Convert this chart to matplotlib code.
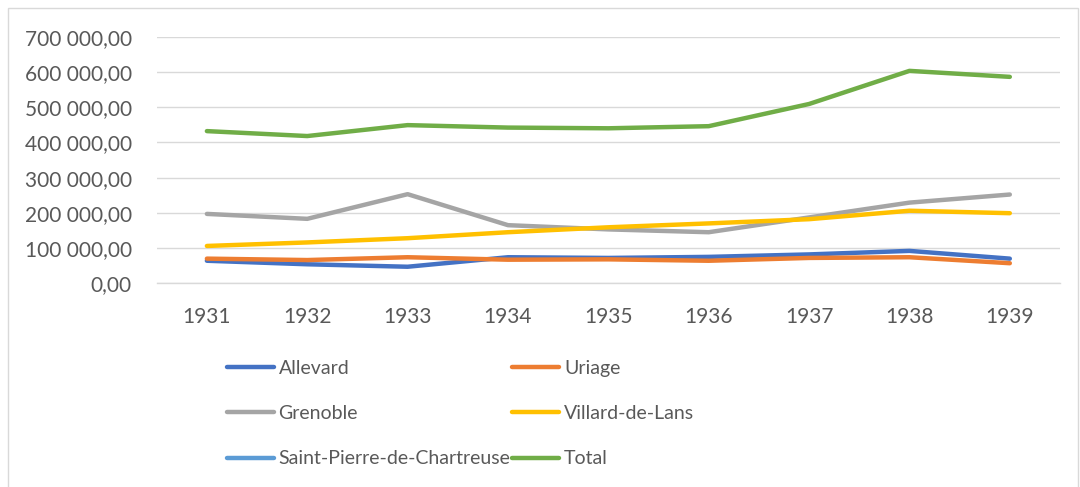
import matplotlib
matplotlib.use('Agg')
from matplotlib import pyplot as plt
from matplotlib.patches import Rectangle
from matplotlib.ticker import FuncFormatter

years = ['1931', '1932', '1933', '1934', '1935', '1936', '1937', '1938', '1939']

allevard = [64000, 54000, 47000, 74000, 72000, 75000, 82000, 92000, 70000]
uriage = [70000, 66000, 74000, 67000, 68000, 64000, 72000, 74000, 57000]
grenoble = [197000, 183000, 253000, 165000, 153000, 145000, 187000, 229000, 252000]
villard = [106000, 116000, 128000, 145000, 159000, 170000, 182000, 206000, 199000]
# no values shown for this one in the chart, legend only
saint_pierre = [None] * 9
total = [432000, 418000, 449000, 442000, 440000, 446000, 509000, 603000, 586000]

series = [
    ('Allevard', allevard, '#4472c4'),
    ('Uriage', uriage, '#ed7d31'),
    ('Grenoble', grenoble, '#a5a5a5'),
    ('Villard-de-Lans', villard, '#ffc000'),
    ('Saint-Pierre-de-Chartreuse', saint_pierre, '#5b9bd5'),
    ('Total', total, '#70ad47'),
]

TXT = '#595959'
GRID = '#d9d9d9'

plt.rcParams['font.family'] = ['Lato', 'DejaVu Sans']

fig = plt.figure(figsize=(10.8, 4.87), dpi=100)
fig.patches.append(Rectangle((8 / 1080, -0.1), 1070 / 1080, 1 - 8 / 487 + 0.1,
                             transform=fig.transFigure, fill=False,
                             edgecolor=GRID, linewidth=1.0))

ax = fig.add_axes([156.7 / 1080, 1 - 283.3 / 487, (1060 - 156.7) / 1080, (283.3 - 36.7) / 487])

x = list(range(len(years)))
lines = []
for name, vals, col in series:
    v = [float('nan') if a is None else a for a in vals]
    ln, = ax.plot(x, v, color=col, linewidth=3.2, solid_capstyle='round', label=name)
    lines.append(ln)

ax.set_xlim(-0.5, len(years) - 0.5)
ax.set_ylim(0, 700000)
ax.set_yticks(range(0, 700001, 100000))
ax.yaxis.set_major_formatter(FuncFormatter(lambda v, p: '{:,.2f}'.format(v).replace(',', ' ').replace('.', ',')))
ax.set_xticks(x)
ax.set_xticklabels(years)

ax.grid(axis='y', color=GRID, linewidth=1.0)
ax.set_axisbelow(True)
for s in ['top', 'right', 'left']:
    ax.spines[s].set_visible(False)
ax.spines['bottom'].set_color(GRID)
ax.spines['bottom'].set_linewidth(1.0)
ax.tick_params(axis='both', length=0, labelsize=15, colors=TXT)
ax.tick_params(axis='y', pad=18)
ax.tick_params(axis='x', pad=17)

# legend is filled row by row in the original
order = [0, 2, 4, 1, 3, 5]
leg = fig.legend([lines[i] for i in order], [series[i][0] for i in order],
                 loc='upper left', bbox_to_anchor=(227 / 1080, 1 - 360 / 487), ncol=2,
                 frameon=False, fontsize=14, handlelength=2.4, handletextpad=0.25,
                 columnspacing=0.1, labelspacing=1.45, borderpad=0, borderaxespad=0)
for t in leg.get_texts():
    t.set_color(TXT)

fig.savefig('out.png', dpi=100)
